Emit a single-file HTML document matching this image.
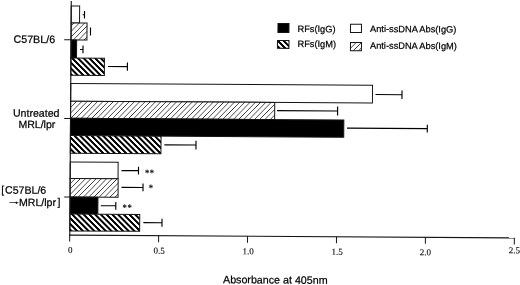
<!DOCTYPE html>
<html>
<head>
<meta charset="utf-8">
<title>Absorbance at 405nm</title>
<style>
html,body{margin:0;padding:0;background:#fff;}
body{width:520px;height:285px;overflow:hidden;position:relative;}
svg{display:block;position:absolute;left:0;top:0;}
text{font-family:"Liberation Sans",sans-serif;fill:#000;stroke:#000;stroke-width:0.22px;}
.ser{font-family:"Liberation Serif",serif;stroke-width:0.1px;}
</style>
</head>
<body>
<svg width="520" height="285" viewBox="0 0 520 285">
<defs>
<pattern id="thin" width="5.25" height="20" patternUnits="userSpaceOnUse" patternTransform="skewX(-44)">
<rect x="0" y="0" width="0.85" height="20" fill="#2a2a2a"/>
</pattern>
<pattern id="thick" width="5.75" height="20" patternUnits="userSpaceOnUse" patternTransform="skewX(45)">
<rect x="0" y="0" width="2.85" height="20" fill="#000"/>
</pattern>
</defs>
<rect width="520" height="285" fill="#fff"/>
<g transform="rotate(0.36 70 235)">
<g stroke="#151515" stroke-width="1">
<rect x="69.8" y="5.9" width="8.41" height="17" fill="#fff"/>
<rect x="69.8" y="22.9" width="15.92" height="17" fill="#fff" stroke="none"/>
<rect x="69.8" y="22.9" width="15.92" height="17" fill="url(#thin)"/>
<rect x="69.8" y="39.9" width="5.62" height="18.1" fill="#000"/>
<rect x="69.8" y="58" width="33.54" height="17.2" fill="#fff" stroke="none"/>
<rect x="69.8" y="58" width="33.54" height="17.2" fill="url(#thick)"/>
<rect x="69.8" y="83.4" width="301.8" height="17.8" fill="#fff"/>
<rect x="69.8" y="101.2" width="204.11" height="17.1" fill="#fff" stroke="none"/>
<rect x="69.8" y="101.2" width="204.11" height="17.1" fill="url(#thin)"/>
<rect x="69.8" y="118.3" width="273.32" height="17.3" fill="#000"/>
<rect x="69.8" y="135.6" width="90.63" height="17.7" fill="#fff" stroke="none"/>
<rect x="69.8" y="135.6" width="90.63" height="17.7" fill="url(#thick)"/>
<rect x="69.8" y="161.9" width="47.89" height="16.5" fill="#fff"/>
<rect x="69.8" y="178.4" width="48" height="18.6" fill="#fff" stroke="none"/>
<rect x="69.8" y="178.4" width="48" height="18.6" fill="url(#thin)"/>
<rect x="69.8" y="197" width="27.91" height="17" fill="#000"/>
<rect x="69.8" y="214" width="69.82" height="16.9" fill="#fff" stroke="none"/>
<rect x="69.8" y="214" width="69.82" height="16.9" fill="url(#thick)"/>
</g>
<path d="M81.22 14.71H83.12M83.12 10.91V18.41M89.22 27.38V35.38M78.83 49.42H81.83M81.83 45.42V53.12M106.94 66.24H126.34M126.34 62.24V70.34M374.61 92.62H401.11M401.11 88.52V96.92M276.22 109.32H336.82M336.82 104.82V113.72M346.32 126.36H426.62M426.62 122.46V130.36M163.83 144.21H195.43M195.43 139.91V148.71M121.09 170.27H138.09M138.09 166.27V174.07M121.2 187.04H142.7M142.7 183.14V190.84M100.62 205.51H115.62M115.62 201.61V209.51M143.32 222.22H161.92M161.92 218.12V226.22" stroke="#000" stroke-width="1.15" fill="none"/>
<g stroke="#151515" fill="none">
<path d="M69.8 1V235.7" stroke-width="1.15"/>
<path d="M69.2 235.1H514.8" stroke-width="1.2"/>
<path d="M62.97 39.82H69.8M63.47 118.42H69.8M63.96 197.02H69.8" stroke-width="1"/>
<path d="M69.7 235V241.6M158.63 235V241.6M247.56 235V241.6M336.49 235V241.6M425.42 235V241.6M514.35 235V241.6" stroke-width="1"/>
</g>
<g class="ser" font-size="9" text-anchor="middle">
<text class="ser" x="70.3" y="253.1">0</text>
<text class="ser" x="159.33" y="253.1">0.5</text>
<text class="ser" x="248.26" y="253.1">1.0</text>
<text class="ser" x="337.19" y="253.1">1.5</text>
<text class="ser" x="425.62" y="253.1">2.0</text>
<text class="ser" x="514.45" y="250.5">2.5</text>
</g>
<text x="223.3" y="282.24" font-size="10.7">Absorbance at 405nm</text>
<text x="12.29" y="43.16" font-size="10.7">C57BL/6</text>
<text x="12.16" y="116.96" font-size="10.6">Untreated</text>
<text x="17.73" y="128.23" font-size="10.55">MRL/lpr</text>
<text x="0.94" y="193.73" font-size="10.5" stroke="none">[</text>
<text x="4.74" y="194.01" font-size="10.6">C57BL/6</text>
<text id="arr" transform="translate(6.31 204.3) scale(1.85 1)" x="0" y="0" font-size="8" stroke="none">→</text>
<text x="18.82" y="206.22" font-size="10.55">MRL/lpr</text>
<text x="57.42" y="205.68" font-size="10.5" stroke="none">]</text>
<g class="ser" font-size="8.6" font-weight="bold" letter-spacing="0.5">
<text class="ser" x="144.62" y="174.93">**</text>
<text class="ser" x="148.52" y="189.91">*</text>
<text class="ser" x="122.44" y="209.87">**</text>
</g>
<g stroke="#151515" stroke-width="1">
<rect x="276.66" y="22.2" width="11" height="9" fill="#000"/>
<rect x="276.27" y="39.2" width="11.5" height="7.8" fill="#fff" stroke="none"/>
<rect x="276.27" y="39.2" width="11.5" height="7.8" fill="url(#thick)"/>
<rect x="349.17" y="22.54" width="11" height="8.2" fill="#fff"/>
<rect x="349.28" y="40.74" width="11" height="8.2" fill="#fff" stroke="none"/>
<rect x="349.28" y="40.74" width="11" height="8.2" fill="url(#thin)"/>
</g>
<text x="296.22" y="30.57" font-size="9.25">RFs(IgG)</text>
<text x="296.31" y="45.57" font-size="9.25">RFs(IgM)</text>
<text x="368.72" y="30.12" font-size="9.25">Anti-ssDNA Abs(IgG)</text>
<text x="368.82" y="46.82" font-size="9.25">Anti-ssDNA Abs(IgM)</text>
</g>
</svg>
</body>
</html>
